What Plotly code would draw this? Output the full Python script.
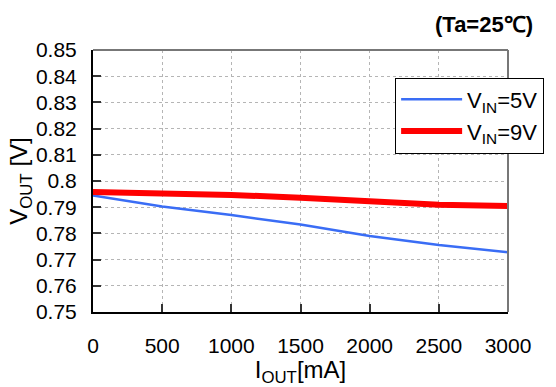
import plotly.graph_objects as go

iout = [0, 500, 1000, 1500, 2000, 2500, 3000]
vout_5v = [0.7945, 0.7903, 0.7870, 0.7834, 0.7790, 0.7756, 0.7728]
vout_9v = [0.7958, 0.7953, 0.7947, 0.7936, 0.7920, 0.7909, 0.7905]
x_ticks = [0, 500, 1000, 1500, 2000, 2500, 3000]
y_ticks = [0.75, 0.76, 0.77, 0.78, 0.79, 0.80, 0.81, 0.82, 0.83, 0.84, 0.85]
y_ticklabels = ["0.75", "0.76", "0.77", "0.78", "0.79", "0.8", "0.81", "0.82", "0.83", "0.84", "0.85"]

FONT = "Liberation Sans, Arial, sans-serif"

fig = go.Figure()
fig.add_trace(go.Scatter(x=iout, y=vout_5v, mode="lines", name="V<sub>IN</sub>=5V",
                         legendgroup="a",
                         line=dict(color="#3a6df5", width=2.5)))
fig.add_trace(go.Scatter(x=iout, y=vout_9v, mode="lines", name="V<sub>IN</sub>=9V",
                         legendgroup="b",
                         line=dict(color="#ff0000", width=6)))

fig.update_layout(
    width=556, height=387,
    margin=dict(l=93, r=48, t=50, b=75, autoexpand=False),
    paper_bgcolor="white", plot_bgcolor="white",
    font=dict(family=FONT, color="black"),
    showlegend=True,
    legend=dict(x=0.728, y=0.895, xanchor="left", yanchor="top",
                bgcolor="white", bordercolor="black", borderwidth=1,
                font=dict(size=22, family=FONT), itemwidth=61,
                tracegroupgap=0),
    annotations=[dict(text="<b>(Ta=25℃)</b>", xref="paper", yref="paper",
                      x=1.065, y=1.0, xanchor="right", yanchor="bottom", yshift=11,
                      showarrow=False, font=dict(size=22, family=FONT))],
    shapes=[
        dict(type="line", xref="paper", yref="paper", x0=0, x1=1, y0=1, y1=1,
             line=dict(color="#777777", width=2)),
        dict(type="line", xref="paper", yref="paper", x0=1, x1=1, y0=0, y1=1,
             line=dict(color="#777777", width=2)),
    ],
)

fig.update_xaxes(range=[0, 3000], tickvals=x_ticks, ticks="inside", ticklen=8,
                 tickwidth=1.5, tickcolor="#333333", showline=True, linecolor="black",
                 linewidth=2, showgrid=True, gridcolor="#b5b5b5", griddash="dot",
                 gridwidth=1, zeroline=False, tickfont=dict(size=21),
                 ticklabelstandoff=14, automargin=False,
                 title=dict(text="I<sub>OUT</sub>[mA]", font=dict(size=24), standoff=0))
fig.update_yaxes(range=[0.75, 0.85], tickvals=y_ticks, ticktext=y_ticklabels,
                 ticks="inside", ticklen=8, tickwidth=1.5, tickcolor="#333333",
                 showline=True, linecolor="black", linewidth=2, showgrid=True,
                 gridcolor="#b5b5b5", griddash="dot", gridwidth=1, zeroline=False,
                 tickfont=dict(size=21), ticklabelstandoff=10, automargin=False,
                 title=dict(text="V<sub>OUT</sub> [V]", font=dict(size=24), standoff=0))

fig.write_html("out.html", config={"displayModeBar": False},
               post_script="document.body.style.margin='0';")
